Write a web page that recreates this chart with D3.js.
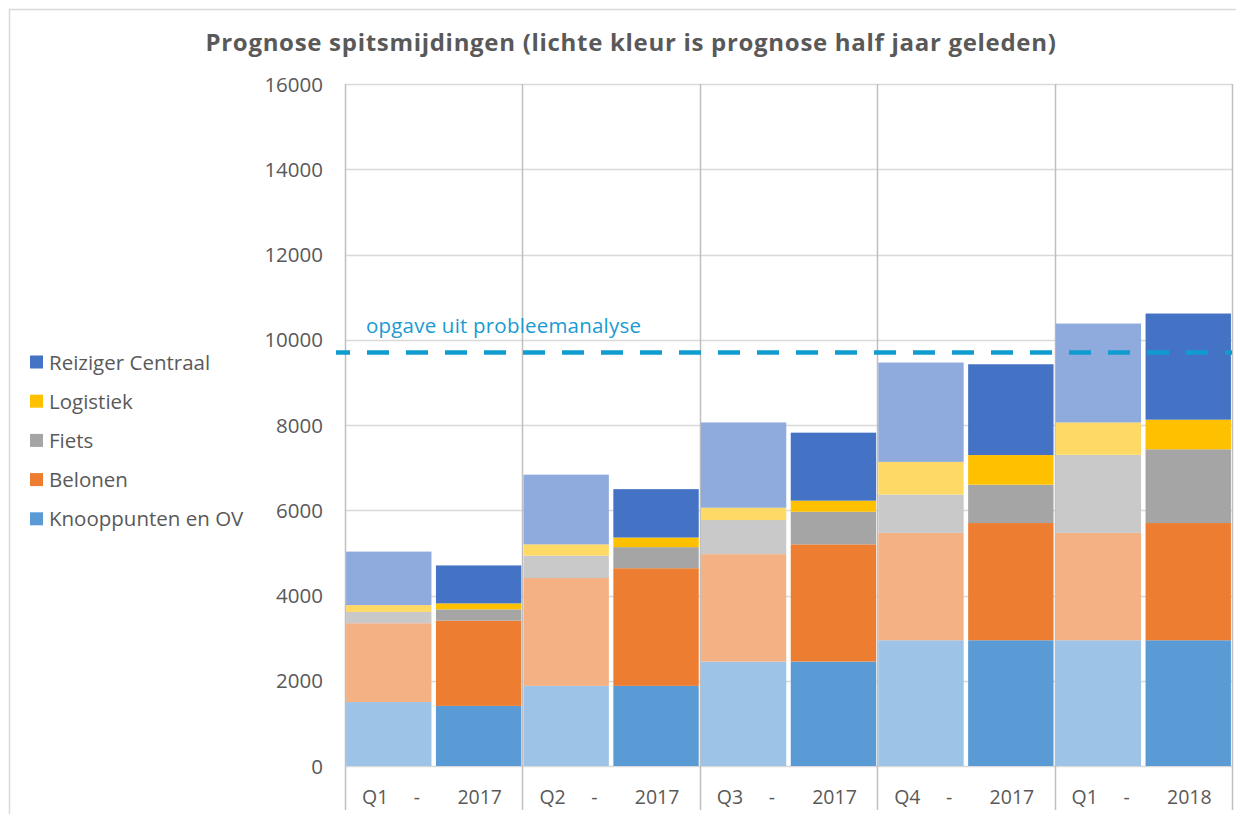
<!DOCTYPE html>
<html>
<head>
<meta charset="utf-8">
<script src="https://cdn.jsdelivr.net/npm/d3@7"></script>
<style>
    body { margin: 0; background: #fff; }
    svg { display: block; font-family: "Open Sans", sans-serif; }
</style>
</head>
<body>
<svg id="chart"></svg>
<script>
const width = 1236, height = 814
const margin = {top: 84, right: 4, bottom: 48, left: 345}

// Categories (quarter, year)
const quarters = ["Q1", "Q2", "Q3", "Q4", "Q1"]
const years = ["2017", "2017", "2017", "2017", "2018"]

// Series, bottom to top
const seriesNames = ["Knooppunten en OV", "Belonen", "Fiets", "Logistiek", "Reiziger Centraal"]

// Prognose half jaar geleden (lichte kleur)
const knooppuntenPrev = [1500, 1880, 2450, 2950, 2950]
const belonenPrev = [1850, 2530, 2520, 2520, 2520]
const fietsPrev = [265, 525, 800, 900, 1830]
const logistiekPrev = [160, 265, 290, 765, 760]
const reizigerPrev = [1255, 1635, 2000, 2330, 2320]

// Huidige prognose (donkere kleur)
const knooppuntenCur = [1410, 1880, 2450, 2950, 2950]
const belonenCur = [2000, 2760, 2750, 2750, 2750]
const fietsCur = [265, 495, 765, 900, 1730]
const logistiekCur = [140, 225, 260, 695, 695]
const reizigerCur = [890, 1135, 1595, 2130, 2490]

const yTicks = [0, 2000, 4000, 6000, 8000, 10000, 12000, 14000, 16000]
const target = 9700
const targetLabel = "opgave uit probleemanalyse"

const darkColors = ["#5b9bd5", "#ed7d31", "#a5a5a5", "#ffc000", "#4472c4"]
const lightColors = ["#9dc3e6", "#f4b183", "#c9c9c9", "#ffd966", "#8faadc"]

const textColor = "#595959"

const prevSeries = [knooppuntenPrev, belonenPrev, fietsPrev, logistiekPrev, reizigerPrev]
const curSeries = [knooppuntenCur, belonenCur, fietsCur, logistiekCur, reizigerCur]

const svg = d3.select("svg#chart")
    .attr("width", width)
    .attr("height", height)
    .attr("viewBox", [0, 0, width, height])

// chart frame
svg.append("path")
    .attr("d", `M9.5,${height} V9.5 H${width}`)
    .attr("fill", "none")
    .attr("stroke", "#d9d9d9")
    .attr("stroke-width", 1.5)

const groupIdx = d3.range(quarters.length)

const xScale = d3.scaleBand()
    .domain(groupIdx)
    .range([margin.left, width - margin.right])

const xInner = d3.scaleBand()
    .domain(["prev", "cur"])
    .range([0, xScale.bandwidth()])
    .paddingInner(0.05)
    .paddingOuter(0.012)

const yScale = d3.scaleLinear()
    .domain([0, 16000])
    .range([height - margin.bottom, margin.top])

// H grid lines
svg.append("g").classed("h-grid", true)
    .selectAll("line")
    .data(yTicks)
    .join("line")
    .attr("x1", margin.left)
    .attr("x2", width - margin.right)
    .attr("y1", d => Math.round(yScale(d)) + 0.5)
    .attr("y2", d => Math.round(yScale(d)) + 0.5)
    .attr("stroke", "#d9d9d9")
    .attr("stroke-width", 1.5)

// V grid lines (group separators, run through the label area)
svg.append("g").classed("v-grid", true)
    .selectAll("line")
    .data(d3.range(quarters.length + 1))
    .join("line")
    .attr("x1", i => Math.round(margin.left + i * xScale.step()) + 0.5)
    .attr("x2", i => Math.round(margin.left + i * xScale.step()) + 0.5)
    .attr("y1", margin.top)
    .attr("y2", height - 4)
    .attr("stroke", "#bfbfbf")
    .attr("stroke-width", 1.5)

// Y axis labels
svg.append("g").classed("y-axis", true)
    .selectAll("text")
    .data(yTicks)
    .join("text")
    .attr("x", 323)
    .attr("y", d => yScale(d) + 7.5)
    .attr("text-anchor", "end")
    .attr("font-size", 20.5)
    .attr("fill", textColor)
    .text(d => d)

// stacked bars
function stackFor(seriesList) {
    return groupIdx.map(i => {
        let acc = 0
        return seriesList.map((arr, s) => {
            const y0 = acc
            acc += arr[i]
            return {group: i, series: s, y0, y1: acc}
        })
    }).flat()
}

const barData = [
    ...stackFor(prevSeries).map(d => ({...d, kind: "prev"})),
    ...stackFor(curSeries).map(d => ({...d, kind: "cur"})),
]

svg.append("g").classed("bars", true)
    .selectAll("rect")
    .data(barData)
    .join("rect")
    .attr("x", d => xScale(d.group) + xInner(d.kind))
    .attr("width", xInner.bandwidth())
    .attr("y", d => yScale(d.y1))
    .attr("height", d => yScale(d.y0) - yScale(d.y1))
    .attr("fill", d => d.kind === "prev" ? lightColors[d.series] : darkColors[d.series])

// target line
svg.append("line")
    .attr("x1", 336)
    .attr("x2", width - margin.right)
    .attr("y1", yScale(target))
    .attr("y2", yScale(target))
    .attr("stroke", "#109ccf")
    .attr("stroke-width", 4.5)
    .attr("stroke-dasharray", "22 17")
    .attr("stroke-dashoffset", 8)

svg.append("text")
    .attr("x", 366)
    .attr("y", yScale(target) - 20)
    .attr("font-size", 20.5)
    .attr("letter-spacing", 0.2)
    .attr("fill", "#1a9bd1")
    .text(targetLabel)

// X labels: "Q1   -   2017" spread over each group
const xLabels = svg.append("g").classed("x-axis", true)
    .attr("font-size", 19.5)
    .attr("fill", textColor)

xLabels.selectAll("text.q")
    .data(groupIdx)
    .join("text").classed("q", true)
    .attr("x", i => xScale(i) + 17)
    .attr("y", 804)
    .text(i => quarters[i])

xLabels.selectAll("text.dash")
    .data(groupIdx)
    .join("text").classed("dash", true)
    .attr("x", i => xScale(i) + 72)
    .attr("y", 804)
    .attr("text-anchor", "middle")
    .text("-")

xLabels.selectAll("text.yr")
    .data(groupIdx)
    .join("text").classed("yr", true)
    .attr("x", i => xScale(i) + 157)
    .attr("y", 804)
    .attr("text-anchor", "end")
    .text(i => years[i])

// Legend (top to bottom: Reiziger Centraal ... Knooppunten en OV)
const legendOrder = d3.range(seriesNames.length).reverse()
const legend = svg.append("g").classed("legend", true)
    .selectAll("g")
    .data(legendOrder)
    .join("g")
    .attr("transform", (s, k) => `translate(30, ${362 + k * 39.2})`)

legend.append("rect")
    .attr("x", 0)
    .attr("y", -6.5)
    .attr("width", 13)
    .attr("height", 13)
    .attr("fill", s => darkColors[s])

legend.append("text")
    .attr("x", 19)
    .attr("y", 7.5)
    .attr("font-size", 20.5)
    .attr("fill", textColor)
    .text(s => seriesNames[s])

// Title
svg.append("text")
    .attr("x", 631)
    .attr("y", 51)
    .attr("text-anchor", "middle")
    .attr("font-size", 24)
    .attr("letter-spacing", 0.7)
    .attr("font-weight", "bold")
    .attr("fill", textColor)
    .text("Prognose spitsmijdingen (lichte kleur is prognose half jaar geleden)")
</script>
</body>
</html>
